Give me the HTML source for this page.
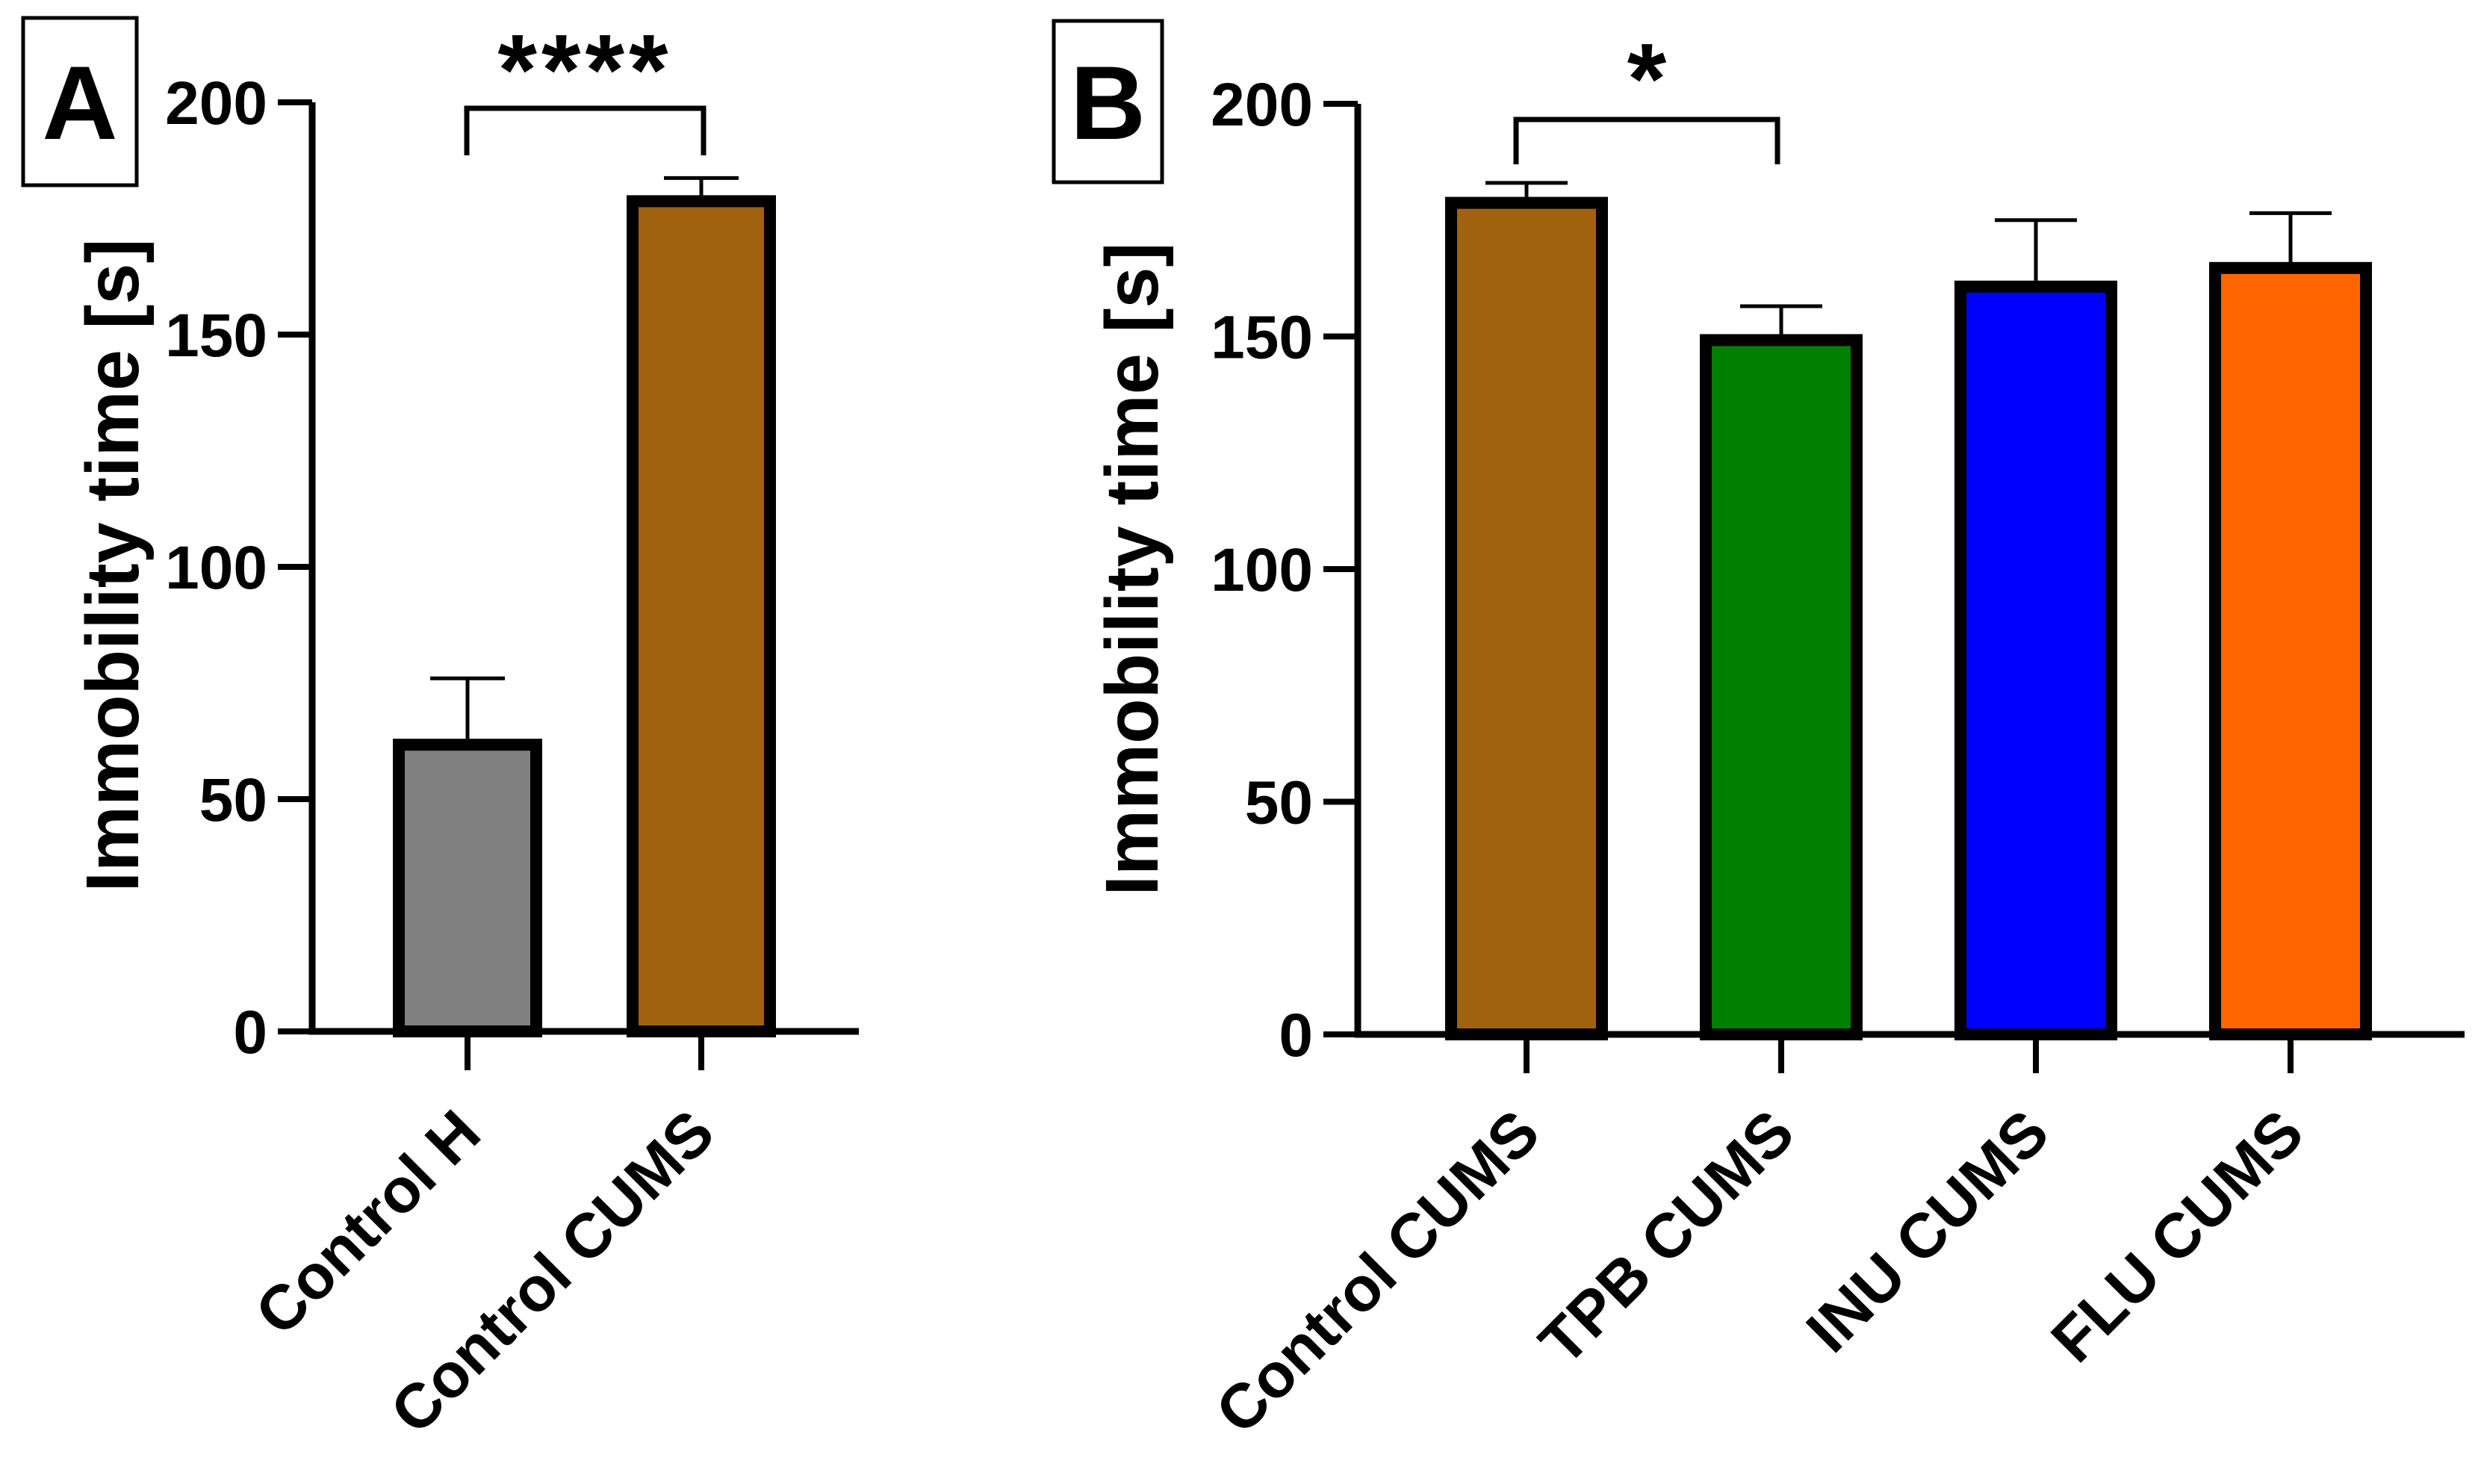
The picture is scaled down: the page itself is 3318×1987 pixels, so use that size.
<!DOCTYPE html>
<html><head><meta charset="utf-8"><style>
html,body{margin:0;padding:0;background:#fff;}
svg{display:block;font-family:"Liberation Sans",Arial,sans-serif;font-weight:bold;}
</style></head><body>
<svg id="chart" width="3318" height="1987" viewBox="0 0 3318 1987" xmlns="http://www.w3.org/2000/svg"></svg>
<script>
// Panel A data
const catsA = ["Control H", "Control CUMS"];
const valsA = [63, 180];
const errsA = [13, 3.7];
const colorsA = ["#808080", "#a0620f"];
// Panel B data
const catsB = ["Control CUMS", "TPB CUMS", "INU CUMS", "FLU CUMS"];
const valsB = [180, 150.5, 162, 166];
const errsB = [3, 6, 13, 10.5];
const colorsB = ["#a0620f", "#008000", "#0000ff", "#ff6600"];
const yTicks = [0, 50, 100, 150, 200];

const NS = "http://www.w3.org/2000/svg";
const svg = document.getElementById("chart");
function mk(tag, attrs, parent) {
  const e = document.createElementNS(NS, tag);
  for (const k in attrs) e.setAttribute(k, attrs[k]);
  (parent || svg).appendChild(e);
  return e;
}

function panel(p) {
  const g = mk("g", {});
  
  
  const y = v => p.y0 - (v / 200) * (p.y0 - p.y200);
  const x = i => p.x0 + i * p.step;
  const box = mk("rect", {x: p.box[0], y: p.box[1], width: p.box[2], height: p.box[3], fill: "#fff", stroke: "#000", "stroke-width": 5}, g);
  
  
  const lt = mk("text", {x: p.box[0] + p.box[2] / 2, y: p.box[1] + p.box[3] / 2 + 50, "font-size": 140, "text-anchor": "middle"}, g);
  lt.textContent = p.letter;
  
  
  p.vals.forEach((v, i) => {
    const cx = x(i), hw = p.barW / 2, sw = 16;
    const r = mk("rect", {x: cx - hw + sw / 2, y: y(v) + sw / 2, width: p.barW - sw, height: p.y0 - y(v) - sw / 2, fill: p.colors[i], stroke: "#000", "stroke-width": sw}, g);
    
    
    const e = p.errs[i];
    const el = mk("path", {d: `M${cx},${y(v)} V${y(v + e)} M${cx - p.capW / 2},${y(v + e)} H${cx + p.capW / 2}`, stroke: "#000", "stroke-width": 5, fill: "none"}, g);
    
    
    const tk = mk("line", {x1: cx, x2: cx, y1: p.y0, y2: p.y0 + 52, stroke: "#000", "stroke-width": 8}, g);
    
    
    const lbx = cx + 22, lby = 1522;
    const lb = mk("text", {x: lbx, y: lby, "font-size": 84, "text-anchor": "end", transform: `rotate(-45 ${lbx} ${lby})`}, g);
    lb.textContent = p.cats[i];
    
    
  });
  const ax = mk("path", {d: `M${p.axX},${y(200)} V${p.y0} H${p.xEnd}`, stroke: "#000", "stroke-width": 9, fill: "none"}, g);
  
  
  yTicks.forEach(t => {
    const tl = mk("line", {x1: p.axX - 46, x2: p.axX, y1: y(t), y2: y(t), stroke: "#000", "stroke-width": 8}, g);
    
    
    const tt = mk("text", {x: p.axX - 60, y: y(t) + 29, "font-size": 82, "text-anchor": "end"}, g);
    tt.textContent = t;
    
    
  });
  const yt = mk("text", {x: 0, y: 0, "font-size": 100, "text-anchor": "middle", textLength: 875, lengthAdjust: "spacingAndGlyphs", transform: `translate(${p.titleX},${p.titleY}) rotate(-90)`}, g);
  yt.textContent = "Immobility time [s]";
  
  
  const br = mk("path", {d: `M${p.br[0]},${p.br[3]} V${p.br[2]} H${p.br[1]} V${p.br[3]}`, stroke: "#000", "stroke-width": 7, fill: "none"}, g);
  
  
  const st = mk("text", {x: (p.br[0] + p.br[1]) / 2, y: p.starY, "font-size": 135, "text-anchor": "middle", "letter-spacing": p.stars.length > 1 ? 6 : 0}, g);
  st.textContent = p.stars;
  
  
}

panel({name: "panel-a", letter: "A", cats: catsA, vals: valsA, errs: errsA, colors: colorsA,
  x0: 626, step: 313, barW: 200, capW: 100, y0: 1381, y200: 137, axX: 418, xEnd: 1150,
  box: [31, 24, 152, 224], titleX: 185, titleY: 757, br: [625, 942, 145, 208], starY: 140, stars: "****"});
panel({name: "panel-b", letter: "B", cats: catsB, vals: valsB, errs: errsB, colors: colorsB,
  x0: 2044, step: 341, barW: 218, capW: 110, y0: 1385, y200: 139, axX: 1818, xEnd: 3300,
  box: [1411, 28, 145, 216], titleX: 1550, titleY: 762, br: [2030, 2380, 160, 220], starY: 152, stars: "*"});
</script>
</body></html>
